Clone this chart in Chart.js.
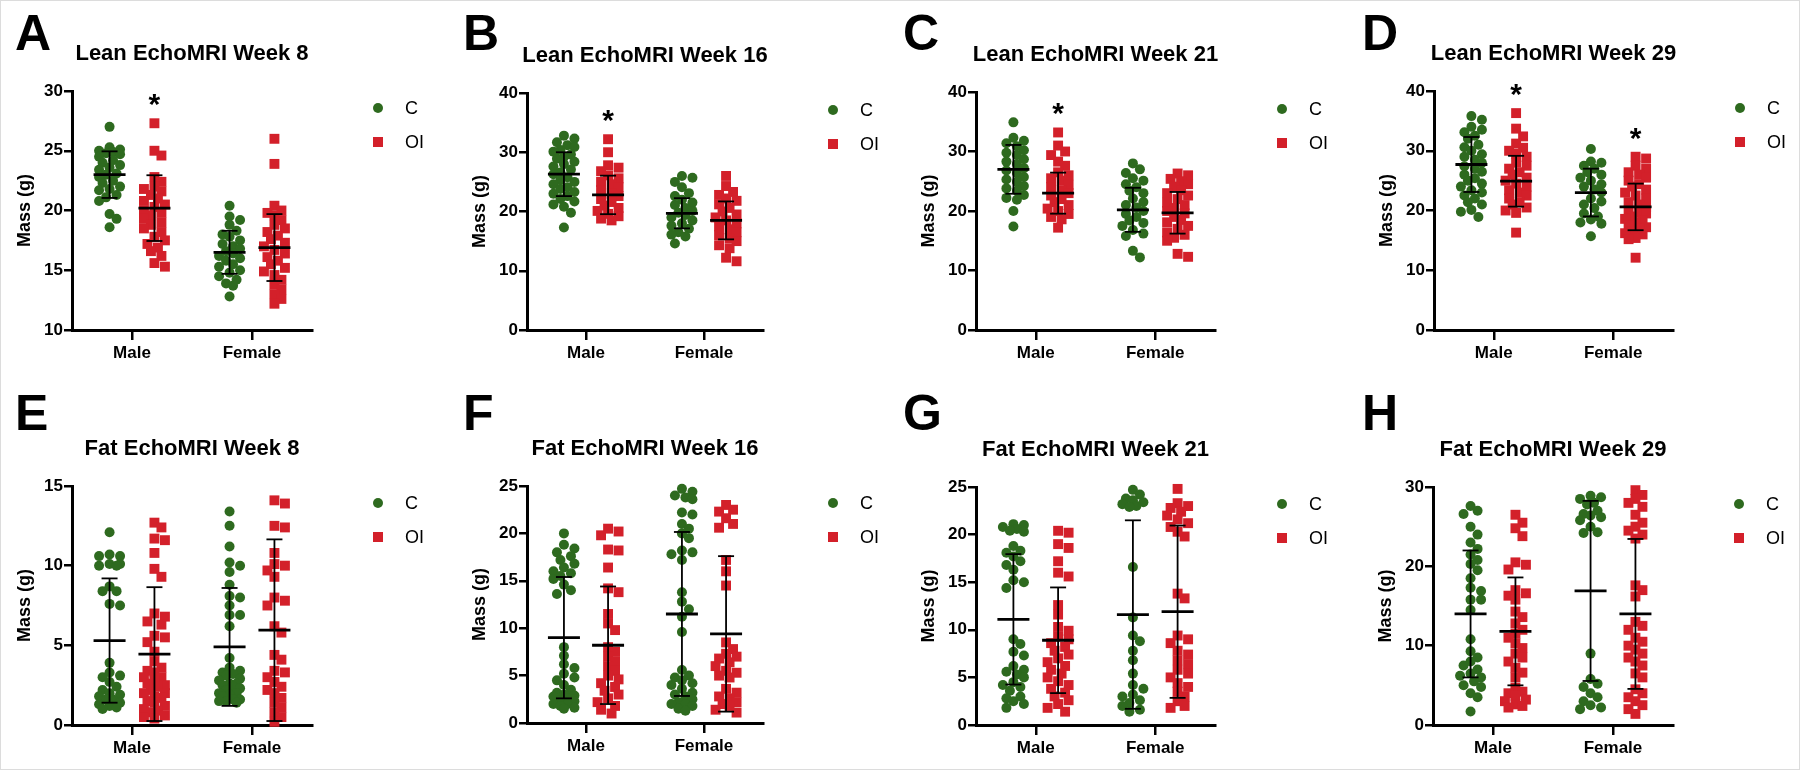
<!DOCTYPE html>
<html>
<head>
<meta charset="utf-8">
<script src="https://cdn.jsdelivr.net/npm/chart.js@4.4.1/dist/chart.umd.min.js"></script>
<style>
  html, body { margin: 0; background: #fff; }
  #fig { position: relative; width: 1800px; height: 770px; overflow: hidden; box-sizing: border-box; border: 1px solid #dcdcdc; }
  #fig canvas { position: absolute; }
</style>
</head>
<body>
<div id="fig"></div>
<script>
// ---- labels ----
const panelLetters = ["A", "B", "C", "D", "E", "F", "G", "H"]
const panelTitles = [
  "Lean EchoMRI Week 8", "Lean EchoMRI Week 16", "Lean EchoMRI Week 21", "Lean EchoMRI Week 29",
  "Fat EchoMRI Week 8", "Fat EchoMRI Week 16", "Fat EchoMRI Week 21", "Fat EchoMRI Week 29",
]
const sexLabels = ["Male", "Female"]
const genotypeLabels = ["C", "OI"]
const yAxisTitle = "Mass (g)"

// y axis ranges / tick steps per panel
const yMin = [10, 0, 0, 0, 0, 0, 0, 0]
const yMax = [30, 40, 40, 40, 15, 25, 25, 30]
const yStep = [5, 10, 10, 10, 5, 5, 5, 10]

// ---- data (g) ----
// Lean week 8
const leanW8MaleC = [27.0, 25.3, 25.1, 25.0, 24.9, 24.8, 24.7, 24.5, 24.2, 24.0, 23.8, 23.6, 23.4, 23.1, 23.0, 22.8, 22.5, 22.3, 22.0, 21.8, 21.7, 21.3, 21.1, 20.8, 19.7, 19.3, 18.6]
const leanW8MaleOI = [27.3, 25.0, 24.6, 22.8, 22.4, 22.0, 21.8, 21.6, 21.3, 21.0, 20.8, 20.5, 20.3, 20.0, 19.8, 19.6, 19.3, 19.0, 18.8, 18.5, 18.2, 17.8, 17.5, 17.2, 16.9, 16.6, 16.2, 15.6, 15.3]
const leanW8FemaleC = [20.4, 19.5, 19.2, 18.8, 18.3, 18.0, 17.8, 17.5, 17.2, 17.0, 16.8, 16.6, 16.4, 16.2, 16.0, 15.8, 15.5, 15.3, 15.0, 14.8, 14.5, 14.2, 13.9, 13.7, 12.8]
const leanW8FemaleOI = [26.0, 23.9, 20.4, 20.0, 19.8, 19.6, 19.2, 18.8, 18.5, 18.2, 17.9, 17.6, 17.3, 17.0, 16.7, 16.4, 16.1, 15.8, 15.5, 15.2, 14.9, 14.6, 14.2, 13.8, 13.4, 13.0, 12.6, 12.2]
const leanW8Mean = [23.0, 20.2, 16.5, 16.9]
const leanW8Sd = [1.95, 2.75, 1.8, 2.8]

// Lean week 16
const leanW16MaleC = [32.8, 32.3, 31.7, 31.2, 30.9, 30.4, 30.1, 29.6, 29.2, 28.9, 28.4, 28.0, 27.6, 27.1, 26.6, 26.3, 25.8, 25.3, 25.0, 24.6, 24.1, 23.8, 23.3, 23.0, 22.6, 22.1, 21.7, 21.2, 20.8, 19.8, 17.3]
const leanW16MaleOI = [32.2, 30.0, 27.8, 27.4, 26.8, 26.1, 25.6, 25.0, 24.6, 24.1, 23.6, 23.0, 22.6, 22.1, 21.6, 21.0, 20.6, 20.1, 19.6, 19.2, 18.8, 18.5]
const leanW16FemaleC = [26.0, 25.7, 25.0, 24.1, 23.1, 22.6, 22.0, 21.5, 21.1, 20.6, 20.1, 19.8, 19.4, 19.0, 18.5, 18.0, 17.6, 17.1, 16.5, 16.1, 15.8, 14.6]
const leanW16FemaleOI = [26.0, 24.3, 23.3, 22.8, 22.2, 21.8, 21.2, 20.6, 20.0, 19.5, 19.0, 18.5, 18.0, 17.5, 17.0, 16.5, 16.0, 15.5, 15.0, 14.3, 13.8, 12.2, 11.6]
const leanW16Mean = [26.3, 22.8, 19.7, 18.5]
const leanW16Sd = [3.7, 3.25, 2.55, 3.2]

// Lean week 21
const leanW21MaleC = [34.9, 32.3, 31.8, 31.4, 30.9, 30.2, 29.8, 29.4, 28.7, 28.3, 27.9, 27.2, 26.8, 26.4, 25.7, 25.3, 24.9, 24.2, 23.8, 23.4, 22.7, 22.2, 21.9, 20.0, 17.4]
const leanW21MaleOI = [33.2, 31.0, 30.0, 29.4, 28.3, 27.6, 26.5, 26.0, 25.5, 25.1, 24.4, 24.0, 23.5, 23.0, 22.6, 22.0, 21.5, 21.0, 20.4, 20.0, 19.5, 19.0, 18.6, 17.2]
const leanW21FemaleC = [28.0, 27.0, 26.4, 25.5, 25.1, 24.5, 24.0, 23.4, 23.0, 22.1, 21.5, 21.0, 20.6, 20.0, 19.5, 19.0, 18.4, 18.0, 17.5, 16.8, 16.2, 15.8, 13.3, 12.2]
const leanW21FemaleOI = [26.3, 26.0, 25.4, 25.0, 24.5, 24.1, 23.5, 23.0, 22.6, 22.0, 21.4, 21.0, 20.5, 20.0, 19.6, 19.0, 18.5, 18.1, 17.5, 17.0, 16.4, 16.0, 15.5, 15.0, 12.8, 12.3]
const leanW21Mean = [27.0, 23.0, 20.2, 19.7]
const leanW21Sd = [4.1, 3.45, 3.7, 3.5]

// Lean week 29
const leanW29MaleC = [35.8, 35.2, 34.0, 33.5, 33.1, 32.5, 32.0, 31.0, 30.6, 30.0, 29.4, 29.0, 28.5, 28.0, 27.4, 27.0, 26.5, 26.0, 25.4, 25.0, 24.5, 24.0, 23.4, 23.0, 22.5, 22.0, 21.4, 21.0, 20.1, 19.8, 18.9]
const leanW29MaleOI = [36.3, 33.7, 32.4, 31.2, 30.5, 30.0, 29.5, 29.0, 28.0, 27.5, 27.0, 26.4, 26.0, 25.5, 25.0, 24.5, 24.0, 23.4, 23.0, 22.5, 22.0, 21.4, 21.0, 20.5, 20.0, 19.6, 16.3]
const leanW29FemaleC = [30.3, 28.2, 28.0, 27.5, 27.0, 26.4, 26.0, 25.5, 25.0, 24.4, 24.0, 23.5, 23.0, 22.0, 21.5, 21.0, 20.4, 19.5, 19.0, 18.5, 18.0, 17.8, 15.7]
const leanW29FemaleOI = [29.0, 28.7, 27.5, 27.0, 26.4, 26.0, 25.5, 25.0, 24.4, 24.0, 23.5, 23.0, 22.5, 22.0, 21.4, 21.0, 20.5, 20.0, 19.6, 19.5, 19.0, 18.6, 18.4, 18.0, 17.5, 17.2, 17.0, 16.5, 16.2, 16.0, 15.4, 15.2, 12.1]
const leanW29Mean = [27.7, 24.9, 23.0, 20.6]
const leanW29Sd = [4.6, 4.25, 4.0, 3.9]

// Fat week 8
const fatW8MaleC = [12.1, 10.7, 10.6, 10.6, 10.1, 10.1, 10.0, 10.0, 8.7, 8.4, 8.4, 7.6, 7.5, 3.9, 3.3, 3.1, 3.0, 2.7, 2.4, 2.2, 2.0, 1.9, 1.8, 1.6, 1.6, 1.4, 1.3, 1.2, 1.1, 1.0]
const fatW8MaleOI = [12.7, 12.4, 11.7, 11.6, 10.8, 9.8, 9.3, 7.0, 6.8, 6.5, 6.3, 5.6, 5.5, 5.2, 4.6, 4.0, 3.6, 3.4, 3.3, 3.0, 3.0, 2.8, 2.6, 2.5, 2.4, 2.2, 2.0, 2.0, 1.8, 1.7, 1.5, 1.4, 1.2, 1.0, 0.9, 0.8, 0.6, 0.5, 0.4]
const fatW8FemaleC = [13.4, 12.5, 11.2, 10.2, 10.0, 9.6, 8.8, 8.1, 8.0, 7.5, 6.9, 6.9, 6.2, 4.2, 3.6, 3.4, 3.3, 3.2, 3.1, 2.9, 2.8, 2.6, 2.6, 2.5, 2.4, 2.3, 2.2, 2.0, 2.0, 1.9, 1.8, 1.6, 1.6, 1.5, 1.5, 1.4]
const fatW8FemaleOI = [14.1, 13.9, 12.5, 12.4, 10.8, 10.1, 10.0, 9.7, 9.3, 8.0, 7.8, 7.5, 6.2, 5.8, 4.4, 4.1, 3.4, 3.3, 3.0, 2.7, 2.4, 2.2, 2.0, 1.7, 1.4, 1.1, 0.8, 0.5, 0.2]
const fatW8Mean = [5.3, 4.45, 4.9, 5.95]
const fatW8Sd = [3.9, 4.2, 3.7, 5.7]

// Fat week 16
const fatW16MaleC = [20.0, 18.8, 18.4, 18.0, 17.6, 17.2, 16.8, 16.4, 16.0, 15.8, 15.5, 15.2, 14.6, 14.0, 13.6, 8.0, 7.1, 6.2, 5.8, 5.2, 4.8, 4.5, 4.0, 3.5, 3.2, 3.0, 2.9, 2.8, 2.6, 2.4, 2.3, 2.0, 2.0, 1.8, 1.6, 1.5]
const fatW16MaleOI = [20.5, 20.2, 19.8, 18.3, 18.2, 16.4, 14.2, 13.8, 11.5, 10.5, 9.8, 8.0, 7.5, 7.0, 6.5, 6.0, 5.5, 5.0, 4.6, 4.2, 3.8, 3.4, 3.0, 2.6, 2.2, 1.8, 1.4, 1.0]
const fatW16FemaleC = [24.7, 24.4, 24.0, 23.8, 23.6, 22.2, 22.0, 21.0, 20.5, 20.0, 19.5, 18.2, 18.0, 17.8, 17.2, 13.8, 12.8, 12.0, 11.2, 9.6, 5.6, 5.0, 4.8, 4.5, 4.2, 4.0, 3.6, 3.2, 3.0, 2.8, 2.5, 2.2, 2.0, 2.0, 1.8, 1.5, 1.3]
const fatW16FemaleOI = [23.0, 22.5, 22.3, 21.6, 21.0, 20.6, 17.2, 16.0, 14.5, 8.5, 7.8, 7.3, 7.0, 6.8, 6.4, 6.0, 5.5, 5.3, 5.0, 4.8, 3.6, 3.2, 2.8, 2.6, 2.2, 2.0, 1.8, 1.4, 1.1]
const fatW16Mean = [9.0, 8.2, 11.5, 9.4]
const fatW16Sd = [6.4, 6.2, 8.65, 8.2]

// Fat week 21
const fatW21MaleC = [21.1, 21.0, 20.8, 20.6, 20.4, 20.3, 18.8, 18.3, 18.1, 17.7, 17.2, 16.8, 16.3, 15.2, 15.0, 14.4, 9.0, 8.5, 7.7, 7.3, 6.2, 5.8, 5.6, 5.3, 5.0, 4.5, 4.2, 4.0, 3.6, 3.0, 2.8, 2.5, 2.2, 1.8]
const fatW21MaleOI = [20.4, 20.2, 19.0, 18.6, 17.2, 16.0, 15.6, 12.6, 11.6, 10.3, 9.9, 9.3, 9.0, 8.6, 8.2, 7.8, 7.4, 7.0, 6.6, 6.2, 5.8, 5.4, 5.0, 4.6, 4.2, 3.8, 3.4, 3.0, 2.6, 2.2, 1.8, 1.4]
const fatW21FemaleC = [24.7, 24.2, 23.8, 23.6, 23.4, 23.2, 23.0, 22.9, 16.6, 11.3, 9.4, 8.8, 7.8, 6.8, 5.4, 4.2, 3.8, 3.2, 3.0, 2.6, 2.3, 2.0, 1.6, 1.4]
const fatW21FemaleOI = [24.8, 23.3, 23.0, 22.8, 22.4, 22.0, 21.6, 21.2, 20.8, 20.3, 19.8, 13.8, 13.3, 9.4, 9.0, 8.6, 7.8, 7.4, 6.8, 6.4, 5.8, 5.4, 5.0, 4.4, 4.0, 3.5, 3.0, 2.5, 2.0, 1.8]
const fatW21Mean = [11.1, 8.9, 11.6, 11.9]
const fatW21Sd = [6.85, 5.55, 9.9, 9.05]

// Fat week 29
const fatW29MaleC = [27.6, 27.0, 26.6, 25.0, 24.0, 23.0, 22.2, 21.5, 20.8, 20.3, 19.5, 18.5, 17.3, 16.9, 15.8, 15.8, 14.5, 10.8, 9.3, 8.5, 8.0, 7.5, 7.0, 6.5, 6.2, 6.0, 5.5, 5.0, 4.8, 4.0, 3.5, 1.7]
const fatW29MaleOI = [26.5, 25.5, 24.8, 23.8, 20.5, 20.2, 19.6, 17.0, 16.6, 16.3, 15.8, 14.3, 13.6, 12.8, 12.0, 11.5, 11.0, 10.3, 9.7, 9.0, 8.5, 8.0, 7.2, 6.6, 6.0, 4.7, 4.2, 4.0, 3.7, 3.2, 3.0, 2.6, 2.4, 2.2]
const fatW29FemaleC = [28.9, 28.7, 28.5, 28.0, 27.8, 27.0, 26.6, 26.4, 26.2, 25.8, 25.0, 24.3, 24.2, 9.0, 5.8, 5.2, 4.8, 4.0, 3.5, 3.0, 2.5, 2.2, 2.0]
const fatW29FemaleOI = [29.6, 29.0, 28.5, 28.0, 27.5, 26.5, 25.5, 25.0, 24.5, 24.0, 23.5, 17.6, 17.0, 16.2, 13.0, 12.5, 12.0, 11.0, 10.5, 10.0, 9.5, 9.0, 8.5, 8.0, 7.5, 6.5, 6.0, 4.5, 4.0, 3.5, 3.0, 2.5, 2.0, 1.4]
const fatW29Mean = [14.0, 11.8, 16.9, 14.0]
const fatW29Sd = [8.0, 6.8, 11.35, 9.45]

// significance stars: [panel, group]  (group order: Male C, Male OI, Female C, Female OI)
const sigStars = [[0, 1], [1, 1], [2, 1], [3, 1], [3, 3]]

// group lists per panel
const panelGroups = [
  [leanW8MaleC, leanW8MaleOI, leanW8FemaleC, leanW8FemaleOI],
  [leanW16MaleC, leanW16MaleOI, leanW16FemaleC, leanW16FemaleOI],
  [leanW21MaleC, leanW21MaleOI, leanW21FemaleC, leanW21FemaleOI],
  [leanW29MaleC, leanW29MaleOI, leanW29FemaleC, leanW29FemaleOI],
  [fatW8MaleC, fatW8MaleOI, fatW8FemaleC, fatW8FemaleOI],
  [fatW16MaleC, fatW16MaleOI, fatW16FemaleC, fatW16FemaleOI],
  [fatW21MaleC, fatW21MaleOI, fatW21FemaleC, fatW21FemaleOI],
  [fatW29MaleC, fatW29MaleOI, fatW29FemaleC, fatW29FemaleOI],
]
const panelMeans = [leanW8Mean, leanW16Mean, leanW21Mean, leanW29Mean, fatW8Mean, fatW16Mean, fatW21Mean, fatW29Mean]
const panelSds = [leanW8Sd, leanW16Sd, leanW21Sd, leanW29Sd, fatW8Sd, fatW16Sd, fatW21Sd, fatW29Sd]

// ---- layout (plot area inside each 450x385 panel) ----
const frames = [
  { L: 72, R: 312, T: 91, B: 330 }, { L: 77, R: 313, T: 93, B: 330 },
  { L: 76, R: 315, T: 92, B: 330 }, { L: 84, R: 323, T: 91, B: 330 },
  { L: 72, R: 312, T: 101, B: 340 }, { L: 77, R: 313, T: 101, B: 338 },
  { L: 76, R: 315, T: 102, B: 340 }, { L: 83, R: 323, T: 102, B: 340 },
]
const letterX = [15, 13, 3, 12]
const letterBase = [50, 45]

const GREEN = "#2e6a1f"
const RED = "#d3202a"
const FONT = '"Liberation Sans", Arial, sans-serif'

Chart.defaults.font.family = FONT
Chart.defaults.color = "#000"

const groupOffset = 0.187
const groupX = (g) => (g >> 1) + 1 + (g % 2 ? groupOffset : -groupOffset)

// simple beeswarm on a coarse grid, like Prism's scatter dot plot (pixels)
function swarmOffsets(values, pxPerUnit) {
  const order = values.map((v, i) => i).sort((a, b) => values[b] - values[a])
  const slots = [0, 7, -7, 3.5, -3.5, 10.5, -10.5]
  const placed = []
  const offs = []
  order.forEach((i) => {
    const py = values[i] * pxPerUnit
    let best = 0
    let bestGap = -1
    for (const o of slots) {
      let gap = Infinity
      placed.forEach((p) => { gap = Math.min(gap, Math.hypot(p.x - o, p.y - py)) })
      if (gap >= 8) { best = o; break }
      if (gap > bestGap + 0.5) { bestGap = gap; best = o }
    }
    placed.push({ x: best, y: py })
    offs[i] = best
  })
  return offs
}

function line(ctx, x1, y1, x2, y2) {
  ctx.beginPath()
  ctx.moveTo(x1, y1)
  ctx.lineTo(x2, y2)
  ctx.stroke()
}

// mean/SD bars, stars, titles, letters and legend
const decorPlugin = {
  id: "decor",
  afterDatasetsDraw(chart, args, opts) {
    const i = opts.panel
    const ctx = chart.ctx
    const xs = chart.scales.x
    const ys = chart.scales.y
    ctx.save()
    ctx.strokeStyle = "#000"
    panelGroups[i].forEach((vals, g) => {
      const cx = xs.getPixelForValue(groupX(g))
      const m = panelMeans[i][g]
      const s = panelSds[i][g]
      const pm = ys.getPixelForValue(m)
      const hi = ys.getPixelForValue(m + s)
      const lo = ys.getPixelForValue(m - s)
      ctx.lineWidth = 1.8
      line(ctx, cx, hi, cx, lo)
      line(ctx, cx - 8, hi, cx + 8, hi)
      line(ctx, cx - 8, lo, cx + 8, lo)
      ctx.lineWidth = 2.8
      line(ctx, cx - 16, pm, cx + 16, pm)
    })
    ctx.fillStyle = "#000"
    ctx.textAlign = "center"
    ctx.textBaseline = "alphabetic"
    ctx.font = "bold 30px " + FONT
    sigStars.filter((s) => s[0] === i).forEach(([, g]) => {
      const top = ys.getPixelForValue(Math.max(...panelGroups[i][g]))
      ctx.fillText("*", xs.getPixelForValue(groupX(g)), top - 26 + 17)
    })
    ctx.restore()
  },
  afterDraw(chart, args, opts) {
    const i = opts.panel
    const ctx = chart.ctx
    const ca = chart.chartArea
    const col = i % 4
    const row = Math.floor(i / 4)
    ctx.save()
    ctx.fillStyle = "#000"
    ctx.textBaseline = "alphabetic"
    ctx.textAlign = "left"
    ctx.font = "bold 50px " + FONT
    ctx.fillText(panelLetters[i], letterX[col], letterBase[row])
    ctx.textAlign = "center"
    ctx.font = "bold 22px " + FONT
    ctx.fillText(panelTitles[i], (ca.left + ca.right) / 2, ca.top - 31)
    // legend
    const lx = ca.left + 306
    const ly = [ca.top + 17, ca.top + 51]
    ctx.fillStyle = GREEN
    ctx.beginPath()
    ctx.arc(lx, ly[0], 5, 0, Math.PI * 2)
    ctx.fill()
    ctx.fillStyle = RED
    ctx.fillRect(lx - 5, ly[1] - 5, 10, 10)
    ctx.fillStyle = "#000"
    ctx.textAlign = "left"
    ctx.textBaseline = "middle"
    ctx.font = "18px " + FONT
    genotypeLabels.forEach((t, k) => ctx.fillText(t, lx + 27, ly[k] + 1))
    ctx.restore()
  },
}

const fig = document.getElementById("fig")

function makePanel(i) {
  const f = frames[i]
  const col = i % 4
  const row = Math.floor(i / 4)
  const canvas = document.createElement("canvas")
  canvas.width = 450
  canvas.height = 385
  canvas.style.left = col * 450 - 1 + "px"
  canvas.style.top = row * 385 - 1 + "px"
  fig.appendChild(canvas)

  const pxX = (f.R - f.L) / 2
  const pxY = (f.B - f.T) / (yMax[i] - yMin[i])
  const sets = [[], []]
  panelGroups[i].forEach((vals, g) => {
    const offs = swarmOffsets(vals, pxY)
    vals.forEach((v, j) => sets[g % 2].push({ x: groupX(g) + offs[j] / pxX, y: v }))
  })

  const tickGrid = { display: true, drawOnChartArea: false, drawTicks: true, color: "#000", lineWidth: 2.5 }

  return new Chart(canvas, {
    type: "scatter",
    data: {
      datasets: [
        { label: genotypeLabels[0], data: sets[0], pointStyle: "circle", radius: 5, backgroundColor: GREEN, borderWidth: 0, clip: false },
        { label: genotypeLabels[1], data: sets[1], pointStyle: "rect", radius: 7, backgroundColor: RED, borderWidth: 0, clip: false },
      ],
    },
    options: {
      responsive: false,
      animation: false,
      events: [],
      layout: { padding: { left: f.L - 60, top: f.T, right: 450 - f.R, bottom: 385 - f.B - 40 } },
      plugins: {
        legend: { display: false },
        tooltip: { enabled: false },
        decor: { panel: i },
      },
      scales: {
        x: {
          type: "linear",
          min: 0.5,
          max: 2.5,
          afterBuildTicks: (ax) => { ax.ticks = sexLabels.map((s, k) => ({ value: k + 1 })) },
          ticks: { callback: (v) => sexLabels[v - 1], font: { size: 17, weight: "bold" }, padding: 3, maxRotation: 0, autoSkip: false },
          grid: { ...tickGrid, tickLength: 10 },
          border: { display: true, color: "#000", width: 3 },
          afterFit: (ax) => { ax.height = 40 },
        },
        y: {
          min: yMin[i],
          max: yMax[i],
          ticks: { stepSize: yStep[i], font: { size: 17, weight: "bold" }, padding: 1, autoSkip: false },
          grid: { ...tickGrid, tickLength: 8 },
          border: { display: true, color: "#000", width: 3 },
          title: { display: true, text: yAxisTitle, font: { size: 18, weight: "bold" }, padding: { top: 2, bottom: 0 } },
          afterFit: (ax) => { ax.width = 60 },
        },
      },
    },
    plugins: [decorPlugin],
  })
}

panelTitles.forEach((t, i) => makePanel(i))
</script>
</body>
</html>
